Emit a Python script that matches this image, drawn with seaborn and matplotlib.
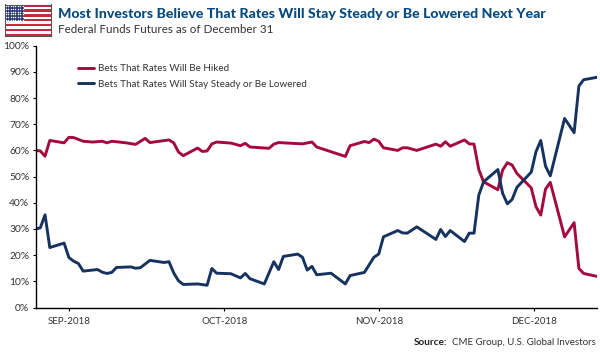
import matplotlib
matplotlib.use("Agg")
import matplotlib.pyplot as plt
import numpy as np
import pandas as pd
import seaborn as sns

# trading session number -> percent, only the sessions where the line turns
hike_sessions = [0, 1, 2, 3, 4, 6, 7, 8, 10, 12, 14, 15, 16, 19, 21, 23, 24, 28, 29, 30, 31, 34, 35, 36, 37, 38,
                 41, 43, 44, 45, 49, 50, 51, 56, 58, 59, 65, 66, 69, 70, 71, 72, 73, 76, 77, 78, 80, 84, 85, 86,
                 87, 90, 91, 92, 93, 94, 97, 98, 99, 100, 101, 104, 105, 106, 107, 108, 111, 113, 114, 115, 118]
hike_values = [60, 59.8, 57.8, 63.8, 63.5, 62.9, 65, 64.9, 63.5, 63.2, 63.5, 62.9, 63.5, 62.9, 62.3, 64.6, 63, 64,
               62.9, 59.4, 58, 60.9, 59.6, 59.8, 62.5, 63.2, 62.8, 61.8, 62.7, 61.3, 60.8, 62.4, 63, 62.5, 63.2,
               61.3, 57.7, 61.8, 63.4, 63, 64.3, 63.5, 61, 60, 61, 61, 60, 62.4, 61.6, 63.3, 61.6, 64, 62.5, 62.4,
               52.7, 48, 45, 52.5, 55.3, 54.4, 51.2, 45.7, 38.5, 35.3, 45.2, 47.8, 27, 32.4, 14.9, 13, 11.8]

steady_sessions = [0, 1, 2, 3, 6, 7, 8, 9, 10, 13, 14, 15, 16, 17, 20, 21, 22, 24, 27, 28, 29, 30, 31, 34, 36, 37,
                   38, 41, 43, 44, 45, 48, 50, 51, 52, 55, 56, 57, 58, 59, 62, 65, 66, 69, 71, 72, 73, 76, 77, 78,
                   80, 84, 85, 86, 87, 90, 91, 92, 93, 94, 97, 98, 99, 100, 101, 104, 105, 106, 107, 108, 111, 113,
                   114, 115, 118]
steady_values = [30, 30.4, 35.4, 22.9, 24.6, 19.1, 17.7, 16.8, 13.9, 14.5, 13.5, 13, 13.4, 15.3, 15.5, 15, 15.2, 18,
                 17.2, 17.5, 13.2, 10.2, 8.8, 9, 8.5, 14.9, 13.1, 12.9, 11.3, 13, 11, 9, 17.5, 14.5, 19.5, 20.4,
                 19.2, 14.3, 15.7, 12.5, 13.1, 9, 12.2, 13.4, 19.2, 20.4, 27, 29.4, 28.5, 28.4, 30.8, 26, 29.8,
                 27.1, 29.4, 25.2, 28.4, 28.4, 42.9, 48, 52.7, 43.6, 39.6, 41.3, 45.9, 51.7, 59.5, 63.8, 54, 50.3,
                 72.2, 66.8, 84.6, 87, 88]

month_labels = ["SEP-2018", "OCT-2018", "NOV-2018", "DEC-2018"]
month_sessions = [7.1, 39.6, 72.1, 104.5]
pct_ticks = list(range(0, 101, 10))

hike_name = "Bets That Rates Will Be Hiked"
steady_name = "Bets That Rates Will Stay Steady or Be Lowered"

RED = "#a50a3c"
NAVY = "#16335f"
TEXT = "#333333"

sns.set_style("white")
plt.rcParams["font.family"] = ["Lato", "DejaVu Sans"]

hike_df = pd.DataFrame({"session": hike_sessions, "pct": hike_values, "series": hike_name})
steady_df = pd.DataFrame({"session": steady_sessions, "pct": steady_values, "series": steady_name})
df = pd.concat([hike_df, steady_df], ignore_index=True)

W, H = 600, 352
fig = plt.figure(figsize=(6, 3.52), dpi=100)
ax = fig.add_axes([35.5 / W, 1 - 307.5 / H, (597 - 35.5) / W, (307.5 - 45.7) / H])

sns.lineplot(data=df, x="session", y="pct", hue="series", palette=[RED, NAVY], linewidth=2.1,
             estimator=None, sort=False, ax=ax)

ax.set_xlim(0, 117.8)
ax.set_ylim(0, 100)
ax.set_xticks(month_sessions)
ax.set_xticklabels(month_labels)
ax.set_yticks(pct_ticks)
ax.set_yticklabels([f"{p}%" for p in pct_ticks])
ax.set_xlabel("")
ax.set_ylabel("")
ax.tick_params(axis="both", bottom=True, left=True, length=2.5, width=0.8, color="black", labelcolor=TEXT)
ax.tick_params(axis="y", labelsize=7.4, pad=2)
ax.tick_params(axis="x", labelsize=7, pad=4)
ax.patch.set_alpha(0)
sns.despine(ax=ax)
for s in ["left", "bottom"]:
    ax.spines[s].set_linewidth(1)
    ax.spines[s].set_color("black")

ax.legend(loc="upper left", bbox_to_anchor=(42 / 561.5, 0.93), frameon=False, fontsize=7.1,
          labelcolor=TEXT, handlelength=1.65, handletextpad=0.4, labelspacing=0.68,
          borderaxespad=0, borderpad=0)

fig.text(58 / W, 1 - 13.5 / H, "Most Investors Believe That Rates Will Stay Steady or Be Lowered Next Year",
         fontsize=10.2, fontweight="black", color="#0a4b7f", va="center", ha="left")
fig.text(58 / W, 1 - 29.5 / H, "Federal Funds Futures as of December 31", fontsize=8.4, color=TEXT,
         va="center", ha="left")
fig.text(596 / W, 1 - 342.5 / H, "CME Group, U.S. Global Investors", fontsize=7.05, color=TEXT, va="center", ha="right")
fig.text(413.5 / W, 1 - 342.5 / H, "Source:", fontsize=7.2, color="#222222", fontweight="bold", va="center", ha="left")

# flag in the corner
flag = fig.add_axes([4.5 / W, 1 - 36 / H, 46.5 / W, 31.5 / H])
for i in range(13):
    flag.axhspan(i, i + 1, color="#c8283c" if i % 2 == 0 else "white", lw=0)
flag.add_patch(plt.Rectangle((0, 6), 0.42, 7, color="#2b3a75", lw=0))
sx, sy = np.meshgrid(np.linspace(0.03, 0.39, 8), np.linspace(6.6, 12.4, 6))
flag.scatter(sx.ravel(), sy.ravel(), s=1.2, color="white", lw=0)
flag.set_xlim(0, 1)
flag.set_ylim(0, 13)
flag.set_xticks([])
flag.set_yticks([])
for s in flag.spines.values():
    s.set_color("#555555")
    s.set_linewidth(0.8)

fig.savefig("out.png", dpi=100)
